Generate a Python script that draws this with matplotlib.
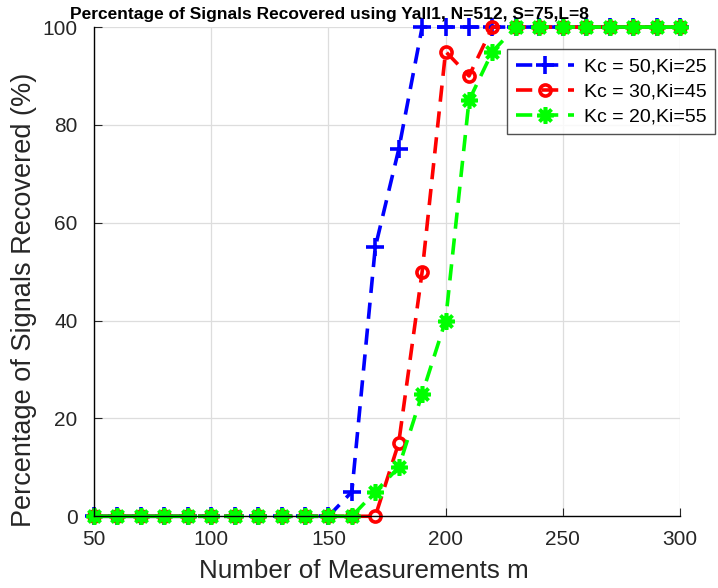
import matplotlib.pyplot as plt

plt.rcParams["font.family"] = ["Liberation Sans", "DejaVu Sans"]

m = list(range(50, 310, 10))
kc50 = [0] * 11 + [5, 55, 75, 100, 100, 100] + [100] * 9
kc30 = [0] * 13 + [15, 50, 95, 90, 100] + [100] * 8
kc20 = [0] * 12 + [5, 10, 25, 40, 85, 95, 100] + [100] * 7

# (8, 2, 0) is an eight-spoke asterisk
series = [
    ("Kc = 50,Ki=25", kc50, "#0000ff", "+", 13),
    ("Kc = 30,Ki=45", kc30, "#ff0000", "o", 8),
    ("Kc = 20,Ki=55", kc20, "#00ff00", (8, 2, 0), 12),
]

fig = plt.figure(figsize=(7.18, 5.88), dpi=100)
ax = fig.add_axes([0.131, 0.122, 0.816, 0.832])

for label, vals, color, marker, ms in series:
    ax.plot(m, vals, linestyle="--", dashes=(4.5, 2.7), color=color, linewidth=2.6,
            marker=marker, markersize=ms, markeredgewidth=2.6,
            markerfacecolor="none" if marker == "o" else color, label=label,
            clip_on=False)

ax.set_xlim(50, 300)
ax.set_ylim(0, 100)
ax.set_xticks(range(50, 301, 50))
ax.set_yticks(range(0, 101, 20))
ax.grid(True, color="#dddddd", linewidth=0.9)
ax.set_axisbelow(True)
for side in ("top", "right"):
    ax.spines[side].set_visible(False)
for side in ("left", "bottom"):
    ax.spines[side].set_linewidth(1.0)
ax.tick_params(direction="in", labelsize=15, colors="#262626", length=6)
ax.tick_params(axis="x", pad=10)
ax.tick_params(axis="y", pad=12)
for lab in ax.get_xticklabels() + ax.get_yticklabels():
    lab.set_color("#262626")

ax.set_xlabel("Number of Measurements m", fontsize=18.7, color="#262626")
ax.set_ylabel("Percentage of Signals Recovered (%)", fontsize=19.5, color="#262626")
ax.xaxis.set_label_coords(0.461, -0.088)
ax.yaxis.set_label_coords(-0.098, 0.442)

fig.text(329 / 718, 1 - 19 / 588,
         "Percentage of Signals Recovered using Yall1, N=512, S=75,L=8",
         fontsize=12.5, fontweight="bold", ha="center", va="baseline")

leg = ax.legend(loc="upper left", bbox_to_anchor=(507 / 718, 1 - 49 / 588),
                bbox_transform=fig.transFigure, fontsize=14, frameon=True,
                fancybox=False, edgecolor="#262626", handlelength=3.0,
                borderpad=0.45, labelspacing=0.38, handletextpad=0.5,
                borderaxespad=0)
leg.get_frame().set_linewidth(1.0)
leg.set_clip_on(False)

fig.savefig("out.png", dpi=100)
